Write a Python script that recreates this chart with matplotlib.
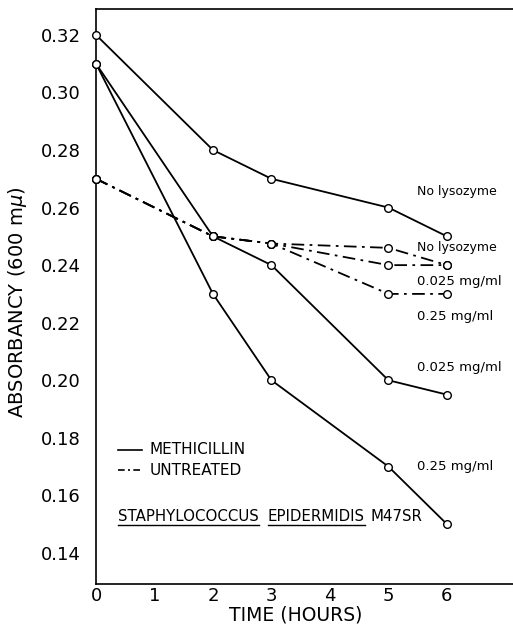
import matplotlib
matplotlib.use("Agg")
import matplotlib.pyplot as plt
from matplotlib.lines import Line2D

# ---- data ----
hours = [0, 2, 3, 5, 6]
meth_no_lys = [0.32, 0.28, 0.27, 0.26, 0.25]
meth_0025 = [0.31, 0.25, 0.24, 0.20, 0.195]
meth_025 = [0.31, 0.23, 0.20, 0.17, 0.15]
untr_no_lys = [0.27, 0.25, 0.2475, 0.246, 0.240]
untr_0025 = [0.27, 0.25, 0.2475, 0.240, 0.240]
untr_025 = [0.27, 0.25, 0.2475, 0.230, 0.230]

x_ticks = [0, 1, 2, 3, 4, 5, 6]
y_ticks = [0.14, 0.16, 0.18, 0.20, 0.22, 0.24, 0.26, 0.28, 0.30, 0.32]
y_tick_labels = ["0.14", "0.16", "0.18", "0.20", "0.22", "0.24", "0.26", "0.28", "0.30", "0.32"]

plt.rcParams['font.family'] = ['DejaVu Sans']

fig = plt.figure(figsize=(5.13, 6.36), dpi=100)
ax = fig.add_axes([96/513, 1 - 584/636, 1 - 96/513, (584 - 9)/636])
ax.set_xlim(0, 7.13)
ax.set_ylim(0.1292, 0.329)

solid_kw = dict(color='black', lw=1.3, marker='o', ms=5.5, mfc='white', mec='black', mew=1.0, clip_on=False, zorder=3)
dd = (7, 3, 1.5, 3)
for ys in (meth_no_lys, meth_0025, meth_025):
    ax.plot(hours, ys, **solid_kw)
for ys in (untr_no_lys, untr_0025, untr_025):
    ax.plot(hours, ys, dashes=dd, **solid_kw)

ax.spines['right'].set_visible(False)
for s in ('left', 'top', 'bottom'):
    ax.spines[s].set_linewidth(1.2)

ax.set_xticks(x_ticks)
ax.set_xticklabels([str(v) for v in x_ticks])
ax.set_yticks(y_ticks)
ax.set_yticklabels(y_tick_labels)
ax.tick_params(axis='both', length=0, labelsize=13)
ax.tick_params(axis='y', pad=11)
ax.tick_params(axis='x', pad=2)

fig.text(296/513, 1 - 615/636, "TIME (HOURS)", ha='center', va='center', fontsize=13.5)
fig.text(18/513, 1 - 302/636, "ABSORBANCY (600 m$\\mu$)", ha='center', va='center', rotation=90, fontsize=14)

# curve labels
lab_kw = dict(fontsize=9, ha='left', va='center')
ax.text(5.487, 0.2656, "No lysozyme", **lab_kw)
ax.text(5.487, 0.2460, "No lysozyme", **lab_kw)
ax.text(5.487, 0.2343, "0.025 mg/ml", fontsize=9.5, ha='left', va='center')
ax.text(5.487, 0.2222, "0.25 mg/ml", fontsize=9.5, ha='left', va='center')
ax.text(5.487, 0.2044, "0.025 mg/ml", fontsize=9.5, ha='left', va='center')
ax.text(5.487, 0.1700, "0.25 mg/ml", fontsize=9.5, ha='left', va='center')

# legend
ax.add_line(Line2D([0.376, 0.786], [0.1759, 0.1759], color='black', lw=1.2))
ax.add_line(Line2D([0.376, 0.786], [0.1687, 0.1687], color='black', lw=1.2, dashes=(4, 2, 1.2, 2)))
ax.text(0.923, 0.1759, "METHICILLIN", fontsize=11, ha='left', va='center')
ax.text(0.923, 0.1687, "UNTREATED", fontsize=11, ha='left', va='center')

t1 = ax.text(0.376, 0.1527, "STAPHYLOCOCCUS", fontsize=10.8, ha='left', va='center')
t2 = ax.text((268 - 96)/58.5, 0.1527, "EPIDERMIDIS", fontsize=10.8, ha='left', va='center')
t3 = ax.text((371 - 96)/58.5, 0.1527, "M47SR", fontsize=10.8, ha='left', va='center')

fig.canvas.draw()
r = fig.canvas.get_renderer()
inv = ax.transData.inverted()
for t in (t1, t2):
    bb = t.get_window_extent(r)
    (x0, y0) = inv.transform((bb.x0, bb.y0 - 1))
    (x1, _) = inv.transform((bb.x1, bb.y0 - 1))
    ax.add_line(Line2D([x0, x1], [y0, y0], color='black', lw=1.0))

fig.savefig("out.png", dpi=100)
